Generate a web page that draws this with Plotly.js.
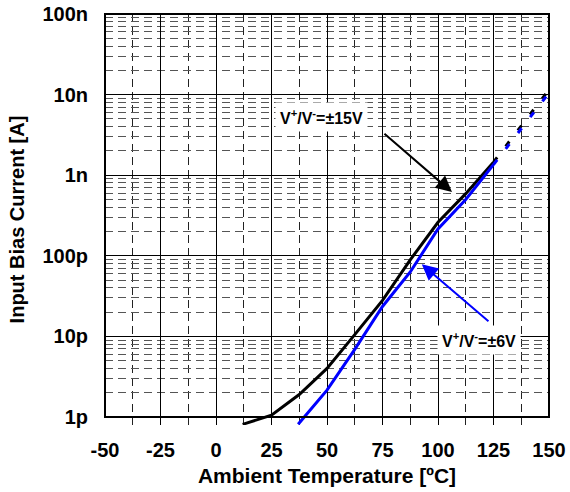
<!DOCTYPE html>
<html>
<head>
<meta charset="utf-8">
<script src="https://cdn.plot.ly/plotly-3.0.1.min.js"></script>
<style>
  html, body { margin: 0; padding: 0; background: #ffffff; }
  #chart { width: 570px; height: 492px; }
</style>
</head>
<body>
<div id="chart"></div>
<script>
// ---- data ----
var tempPm15 = [12, 25, 37.5, 50, 62.5, 75, 87.5, 100, 112.5, 125];
var ibPm15   = [8.1e-13, 1.05e-12, 1.9e-12, 4.0e-12, 1.05e-11, 2.8e-11, 8.9e-11, 2.6e-10, 5.9e-10, 1.45e-9];
var tempPm15Ext = [125, 150];
var ibPm15Ext   = [1.45e-9, 1.15e-8];

var tempPm6 = [37, 50, 62.5, 75, 87.5, 100, 112.5, 125];
var ibPm6   = [8.1e-13, 2.15e-12, 6.9e-12, 2.35e-11, 6.3e-11, 2.15e-10, 5.0e-10, 1.35e-9];
var tempPm6Ext = [125, 150];
var ibPm6Ext   = [1.35e-9, 1.05e-8];

var xTickVals = [-50, -25, 0, 25, 50, 75, 100, 125, 150];
var xTickText = ['-50', '-25', '0', '25', '50', '75', '100', '125', '150'];
var yTickVals = [1e-12, 1e-11, 1e-10, 1e-9, 1e-8, 1e-7];
var yTickText = ['1p', '10p', '100p', '1n', '10n', '100n'];

var labelPm15 = 'V<sup>+</sup>/V<sup>-</sup>=±15V';
var labelPm6  = 'V<sup>+</sup>/V<sup>-</sup>=±6V';

// ---- grid helpers (minor grid positions) ----
var xMinor = [];
for (var i = 0; i < xTickVals.length - 1; i++) xMinor.push((xTickVals[i] + xTickVals[i + 1]) / 2);
var yMinor = [];
for (var d = 0; d < yTickVals.length - 1; d++) {
  for (var m = 2; m <= 9; m++) yMinor.push(m * yTickVals[d]);
}

var FONT = 'Liberation Sans, Arial, Helvetica, sans-serif';
var yLo = -12.1, yHi = -7;            // log10 range (extended slightly below 1p)
var frameBottom = (-12 - yLo) / (yHi - yLo);

var traces = [
  { x: tempPm15, y: ibPm15, mode: 'lines', line: { color: '#000000', width: 3 }, hoverinfo: 'skip' },
  { x: tempPm15Ext, y: ibPm15Ext, mode: 'lines', line: { color: '#000000', width: 3, dash: '6px,14px' }, hoverinfo: 'skip' },
  { x: tempPm6, y: ibPm6, mode: 'lines', line: { color: '#0000ff', width: 3 }, hoverinfo: 'skip' },
  { x: tempPm6Ext, y: ibPm6Ext, mode: 'lines', line: { color: '#0000ff', width: 3, dash: '6px,14px' }, hoverinfo: 'skip' }
];

var layout = {
  width: 570, height: 492,
  margin: { l: 105, r: 21, t: 14, b: 67 },
  paper_bgcolor: '#ffffff', plot_bgcolor: '#ffffff',
  showlegend: false,
  font: { family: FONT, color: '#000000' },
  xaxis: {
    range: [-50, 150],
    tickmode: 'array', tickvals: xTickVals, ticktext: xTickText,
    tickfont: { family: FONT, size: 20, weight: 'bold', color: '#000' },
    showgrid: true, gridcolor: '#000000', gridwidth: 1,
    zeroline: false, showline: false, ticks: '',
    ticklabelstandoff: 11,
    minor: { tickmode: 'array', tickvals: xMinor, showgrid: true, gridcolor: '#222222', gridwidth: 1, griddash: '8px,5px', ticks: '' },
    title: { text: 'Ambient Temperature [ºC]', font: { family: FONT, size: 21, weight: 'bold', color: '#000' }, standoff: 8 }
  },
  yaxis: {
    type: 'log',
    range: [yLo, yHi],
    tickmode: 'array', tickvals: yTickVals, ticktext: yTickText,
    tickfont: { family: FONT, size: 20, weight: 'bold', color: '#000' },
    showgrid: true, gridcolor: '#000000', gridwidth: 1,
    zeroline: false, showline: false, ticks: '',
    ticklabelstandoff: 16,
    minor: { tickmode: 'array', tickvals: yMinor, showgrid: true, gridcolor: '#555555', gridwidth: 1, griddash: '8px,5px', ticks: '' },
    title: { text: 'Input Bias Current [A]', font: { family: FONT, size: 20, weight: 'bold', color: '#000' }, standoff: 12 }
  },
  shapes: [
    { type: 'rect', xref: 'paper', yref: 'paper', x0: -0.01, x1: 1.01, y0: -0.01, y1: frameBottom,
      fillcolor: '#ffffff', line: { width: 0 }, layer: 'between' },
    { type: 'rect', xref: 'paper', yref: 'paper', x0: 0, x1: 1, y0: frameBottom, y1: 1,
      fillcolor: 'rgba(0,0,0,0)', line: { color: '#000000', width: 2 }, layer: 'above' }
  ],
  annotations: [
    { x: 106.3, y: -9.21, xref: 'x', yref: 'y', ax: 75.2, ay: -8.47, axref: 'x', ayref: 'y',
      text: '', showarrow: true, arrowhead: 2, arrowsize: 1.6, arrowwidth: 2, arrowcolor: '#000000', standoff: 0 },
    { x: 92.7, y: -10.105, xref: 'x', yref: 'y', ax: 123.4, ay: -10.83, axref: 'x', ayref: 'y',
      text: '', showarrow: true, arrowhead: 2, arrowsize: 1.6, arrowwidth: 2, arrowcolor: '#0000ff', standoff: 0 },
    { x: 47.3, y: -8.28, xref: 'x', yref: 'y', text: labelPm15, showarrow: false,
      font: { family: FONT, size: 16, weight: 'bold', color: '#000' }, bgcolor: '#ffffff', borderpad: 4 },
    { x: 118.5, y: -11.04, xref: 'x', yref: 'y', text: labelPm6, showarrow: false,
      font: { family: FONT, size: 16, weight: 'bold', color: '#000' }, bgcolor: '#ffffff', borderpad: 4 }
  ]
};

Plotly.newPlot('chart', traces, layout, { staticPlot: true, displayModeBar: false });
</script>
</body>
</html>
